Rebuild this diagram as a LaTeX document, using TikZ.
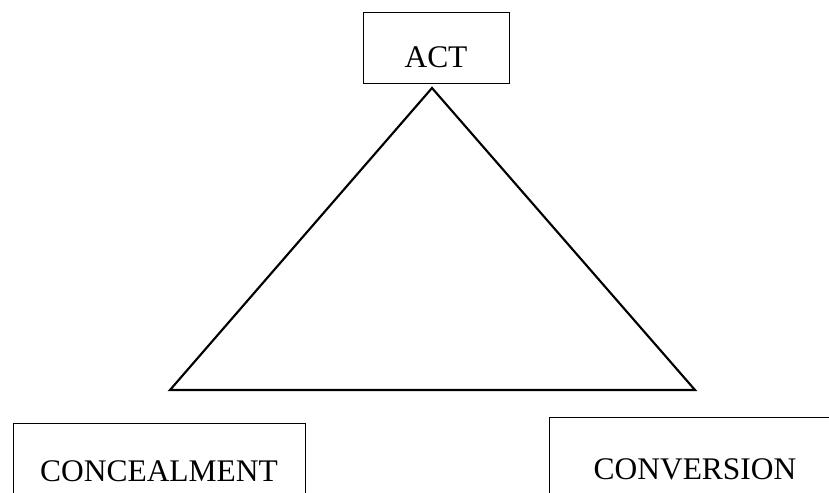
\documentclass[tikz,border=0pt]{standalone}
\usepackage{fontspec}
\setmainfont{Liberation Serif}
\begin{document}
\begin{tikzpicture}[x=0.75pt,y=-0.75pt,
  labelbox/.style={draw=black,line width=0.75pt,inner sep=0pt,anchor=base,
    font=\fontsize{23.6}{28}\selectfont},
  triline/.style={draw=black,line width=1.6pt,line join=miter}]
\useasboundingbox (0,0) rectangle (829,493);
\clip (0,0) rectangle (829,493);
\node[labelbox,minimum width=109.5pt,text height=41.25pt,text depth=12pt] (act) at (436,67) {ACT};
\node[labelbox,minimum width=219pt,text height=43.5pt,text depth=30pt] (conc) at (159,481) {CONCEALMENT};
\node[labelbox,minimum width=219pt,text height=46.5pt,text depth=30pt] (conv) at (695,479) {CONVERSION};
\coordinate (apex) at (432,88);
\coordinate (bl) at (170,390);
\coordinate (br) at (695,390);
\draw[triline] (apex) -- (bl) -- (br) -- cycle;
\end{tikzpicture}
\end{document}
